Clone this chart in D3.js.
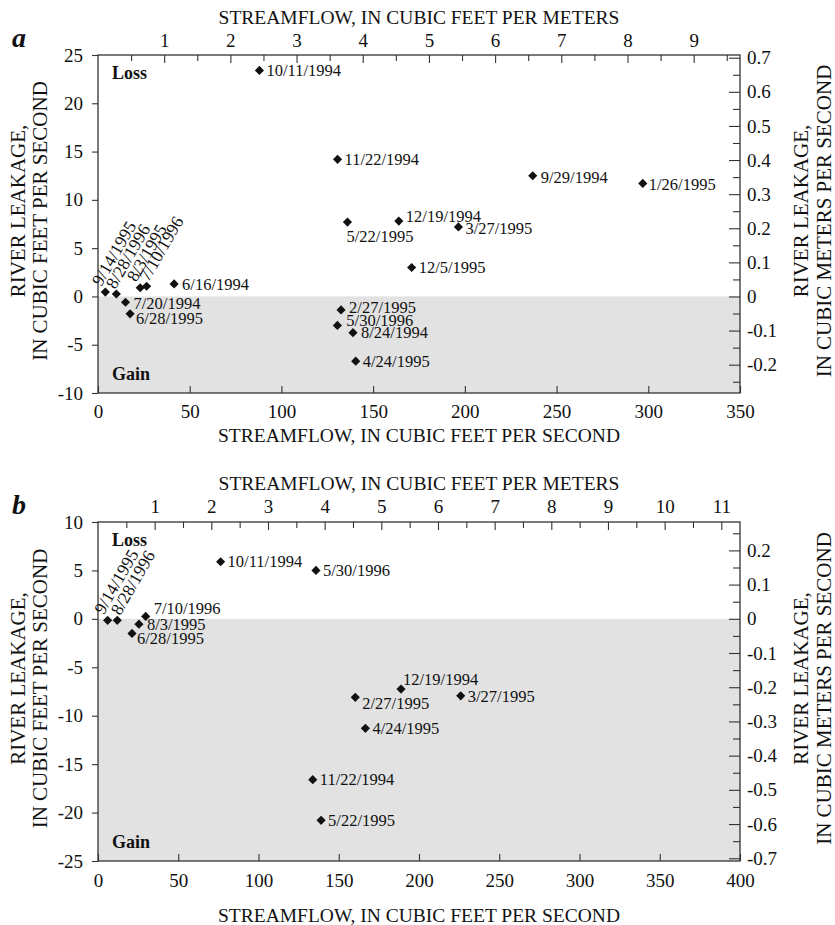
<!DOCTYPE html>
<html>
<head>
<meta charset="utf-8">
<script src="https://cdn.jsdelivr.net/npm/d3@7"></script>
<style>
  body { margin: 0; background: #fff; }
  svg text { font-family: "Liberation Serif", "Times New Roman", serif; fill: #111; }
</style>
</head>
<body>
<svg id="chart" width="835" height="925"></svg>
<script>
// ---- panel a data ----
const datesA = ["10/11/1994", "11/22/1994", "9/29/1994", "1/26/1995", "5/22/1995", "12/19/1994",
  "3/27/1995", "12/5/1995", "9/14/1995", "8/28/1996", "8/3/1995", "7/10/1996", "6/16/1994",
  "7/20/1994", "6/28/1995", "2/27/1995", "5/30/1996", "8/24/1994", "4/24/1995"]
const flowA = [88, 130.6, 237, 297, 136, 164, 196.5, 171, 4, 10, 23, 26.5, 41.5, 15, 17.5, 132.5, 130.5, 139, 140.5]
const leakA = [23.4, 14.2, 12.5, 11.7, 7.7, 7.8, 7.2, 3.0, 0.45, 0.25, 0.9, 1.05, 1.3, -0.6, -1.8, -1.4, -3.0, -3.75, -6.7]

const flowDomainA = [0, 350]
const leakDomainA = [-10, 25]
const topDomainA = [0, 9.7]
const rightDomainA = [-0.283, 0.708]
const xTicksA = [0, 50, 100, 150, 200, 250, 300, 350]
const yTicksA = [-10, -5, 0, 5, 10, 15, 20, 25]
const topTicksA = [1, 2, 3, 4, 5, 6, 7, 8, 9]
const rightTicksA = [-0.2, -0.1, 0, 0.1, 0.2, 0.3, 0.4, 0.5, 0.6, 0.7]

// ---- panel b data ----
const datesB = ["9/14/1995", "8/28/1996", "7/10/1996", "8/3/1995", "6/28/1995", "10/11/1994",
  "5/30/1996", "12/19/1994", "2/27/1995", "3/27/1995", "4/24/1995", "11/22/1994", "5/22/1995"]
const flowB = [6, 12, 29.7, 25.5, 21.2, 76.4, 135.8, 188.8, 160.3, 226, 166.6, 133.8, 139]
const leakB = [-0.15, -0.15, 0.25, -0.55, -1.5, 5.9, 5.0, -7.25, -8.1, -7.95, -11.3, -16.6, -20.8]

const flowDomainB = [0, 400]
const leakDomainB = [-25, 10]
const topDomainB = [0, 11.33]
const rightDomainB = [-0.708, 0.283]
const xTicksB = [0, 50, 100, 150, 200, 250, 300, 350, 400]
const yTicksB = [-25, -20, -15, -10, -5, 0, 5, 10]
const topTicksB = [1, 2, 3, 4, 5, 6, 7, 8, 9, 10, 11]
const rightTicksB = [-0.7, -0.6, -0.5, -0.4, -0.3, -0.2, -0.1, 0, 0.1, 0.2]

// label nudges (dx, dy, angle) per panel/date, default is right of marker
const labelSpots = {
  "a:9/29/1994": [8, 2], "a:1/26/1995": [6, 1], "a:5/22/1995": [-1, 14],
  "a:12/19/1994": [7, -5], "a:3/27/1995": [7, 1], "a:6/16/1994": [8, 0],
  "a:7/20/1994": [8, 1], "a:6/28/1995": [6, 4], "a:2/27/1995": [8, -3],
  "a:5/30/1996": [9, -5], "a:8/24/1994": [8, 0],
  "a:9/14/1995": [-4, -5, -60], "a:8/28/1996": [-1, -4, -60],
  "a:8/3/1995": [-4, -5, -60], "a:7/10/1996": [2, -4, -60],
  "b:9/14/1995": [-4, -5, -60], "b:8/28/1996": [3, -4, -60],
  "b:7/10/1996": [8, -8], "b:8/3/1995": [8, 0], "b:6/28/1995": [5, 5],
  "b:12/19/1994": [2, -10], "b:2/27/1995": [7, 6]
}

const svg = d3.select("#chart")
const left = 98, right = 740

function fmt(d) { return String(+d.toFixed(1)) }

function styleAxis(sel) {
  sel.select(".domain").remove()
  sel.selectAll(".tick line").attr("stroke", "#333").attr("stroke-width", 1.1)
  sel.selectAll(".tick text").style("font-size", "19px")
}

function drawPanel(p) {
  const g = svg.append("g")
  const x = d3.scaleLinear().domain(p.xDomain).range([left, right])
  const y = d3.scaleLinear().domain(p.yDomain).range([p.bottom, p.top])
  const xTop = d3.scaleLinear().domain(p.topDomain).range([left, right])
  const yRight = d3.scaleLinear().domain(p.rightDomain).range([p.bottom, p.top])

  // gain zone
  g.append("rect")
    .attr("x", left).attr("y", y(0))
    .attr("width", right - left).attr("height", p.bottom - y(0))
    .attr("fill", "#e2e2e2")

  // bottom
  g.append("g").attr("transform", `translate(0,${p.bottom})`)
    .call(d3.axisBottom(x).tickValues(p.xTicks).tickFormat(fmt).tickSizeInner(-7).tickSizeOuter(0).tickPadding(p.bottomPad))
    .call(styleAxis)
  // left
  g.append("g").attr("transform", `translate(${left},0)`)
    .call(d3.axisLeft(y).tickValues(p.yTicks).tickFormat(fmt).tickSizeInner(6).tickSizeOuter(0).tickPadding(9))
    .call(styleAxis)
  // top, minor halves then majors
  const topMinor = d3.range(0.5, p.topDomain[1], 1)
  g.append("g").attr("transform", `translate(0,${p.top})`)
    .call(d3.axisTop(xTop).tickValues(topMinor).tickFormat("").tickSizeInner(-6).tickSizeOuter(0))
    .call(styleAxis)
  g.append("g").attr("transform", `translate(0,${p.top})`)
    .call(d3.axisTop(xTop).tickValues(p.topTicks).tickFormat(fmt).tickSizeInner(-8).tickSizeOuter(0).tickPadding(p.topPad))
    .call(styleAxis)
  // right
  const rMinor = p.rightTicks.map(d => d + 0.05).filter(d => d < p.rightDomain[1])
  if (p.rightTicks[0] - 0.05 > p.rightDomain[0]) rMinor.unshift(p.rightTicks[0] - 0.05)
  g.append("g").attr("transform", `translate(${right},0)`)
    .call(d3.axisRight(yRight).tickValues(rMinor).tickFormat("").tickSizeInner(-7).tickSizeOuter(0))
    .call(styleAxis)
  g.append("g").attr("transform", `translate(${right},0)`)
    .call(d3.axisRight(yRight).tickValues(p.rightTicks).tickFormat(fmt).tickSizeInner(-11).tickSizeOuter(0).tickPadding(7))
    .call(styleAxis)

  // frame
  g.append("rect")
    .attr("x", left).attr("y", p.top)
    .attr("width", right - left).attr("height", p.bottom - p.top)
    .attr("fill", "none").attr("stroke", "#333").attr("stroke-width", 1.3)

  // titles
  const midX = (left + right) / 2
  g.append("text").attr("x", midX).attr("y", p.topTitleY).attr("text-anchor", "middle")
    .style("font-size", "19.5px").text("STREAMFLOW, IN CUBIC FEET PER METERS")
  g.append("text").attr("x", midX).attr("y", p.bottomTitleY).attr("text-anchor", "middle")
    .style("font-size", "19.5px").text("STREAMFLOW, IN CUBIC FEET PER SECOND")

  const midY = (p.top + p.bottom) / 2 - 3
  const vTitle = (tx, cy, txt) => g.append("text")
    .attr("transform", `translate(${tx},${cy}) rotate(-90)`)
    .attr("text-anchor", "middle").style("font-size", "21px").text(txt)
  vTitle(25, midY - 10, "RIVER LEAKAGE,")
  vTitle(47, midY, "IN CUBIC FEET PER SECOND")
  vTitle(808, midY - 10, "RIVER LEAKAGE,")
  vTitle(831, midY, "IN CUBIC METERS PER SECOND")

  g.append("text").attr("x", 12).attr("y", p.top - 8)
    .style("font-size", "28px").style("font-weight", "bold").style("font-style", "italic")
    .text(p.name)
  g.append("text").attr("x", left + 14).attr("y", p.top + 24)
    .style("font-size", "18px").style("font-weight", "bold").text("Loss")
  g.append("text").attr("x", left + 14).attr("y", p.bottom - 13)
    .style("font-size", "18px").style("font-weight", "bold").text("Gain")

  // points
  const pts = p.dates.map((d, i) => ({ date: d, flow: p.flow[i], leak: p.leak[i] }))
  const diamond = d3.symbol().type(d3.symbolSquare).size(42)
  g.selectAll("path.pt").data(pts).enter().append("path")
    .attr("class", "pt")
    .attr("d", diamond)
    .attr("transform", d => `translate(${x(d.flow)},${y(d.leak)}) rotate(45)`)
    .attr("fill", "#111")

  const spot = d => labelSpots[p.name + ":" + d.date] || [7, 0]
  g.selectAll("text.lbl").data(pts).enter().append("text")
    .attr("class", "lbl")
    .style("font-size", d => spot(d)[2] ? "17.5px" : "16.5px")
    .attr("transform", d => {
      const s = spot(d)
      return `translate(${x(d.flow) + s[0]},${y(d.leak) + s[1]}) rotate(${s[2] || 0})`
    })
    .attr("dy", d => spot(d)[2] ? "0" : "0.35em")
    .text(d => d.date)
}

drawPanel({
  name: "a", dates: datesA, flow: flowA, leak: leakA,
  xDomain: flowDomainA, yDomain: leakDomainA, topDomain: topDomainA, rightDomain: rightDomainA,
  xTicks: xTicksA, yTicks: yTicksA, topTicks: topTicksA, rightTicks: rightTicksA,
  top: 55, bottom: 393, topPad: 8, bottomPad: 11.5, topTitleY: 24, bottomTitleY: 442
})
drawPanel({
  name: "b", dates: datesB, flow: flowB, leak: leakB,
  xDomain: flowDomainB, yDomain: leakDomainB, topDomain: topDomainB, rightDomain: rightDomainB,
  xTicks: xTicksB, yTicks: yTicksB, topTicks: topTicksB, rightTicks: rightTicksB,
  top: 522, bottom: 861, topPad: 9, bottomPad: 12.5, topTitleY: 490, bottomTitleY: 922
})
</script>
</body>
</html>
